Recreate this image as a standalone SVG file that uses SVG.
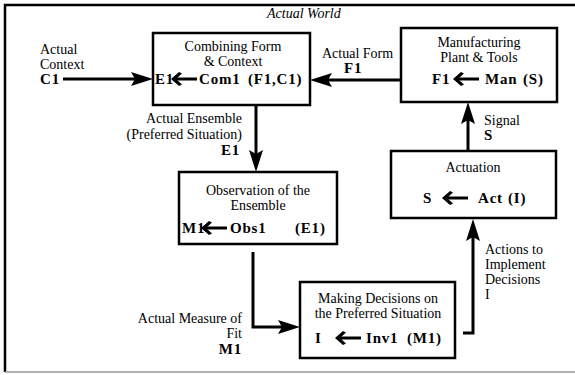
<svg xmlns="http://www.w3.org/2000/svg" xmlns:xlink="http://www.w3.org/1999/xlink" width="575" height="375" viewBox="0 0 575 375">
<style>
.bg{fill:#fff}
.box{fill:#fff;stroke:#000;stroke-width:2.5}
.t{font-family:"Liberation Serif","DejaVu Serif","Times New Roman",serif;font-size:14px;fill:#000}
.b{font-family:"Liberation Serif","DejaVu Serif","Times New Roman",serif;font-size:15px;font-weight:bold;letter-spacing:0.8px;fill:#000}
.i{font-style:italic}
.m{text-anchor:middle}
.e{text-anchor:end}
.c{fill:none;stroke:#000;stroke-width:3}
</style>
<defs>
<marker id="ah" markerUnits="userSpaceOnUse" viewBox="0 0 22 14" refX="12" refY="7" markerWidth="22" markerHeight="14" orient="auto">
<path d="M0,0 L22,7 L0,14 L4,7 z" fill="#000"/>
</marker>
<g id="la">
<path d="M5,0 H26" stroke="#000" stroke-width="3" fill="none"/>
<path d="M0,0 L8,-7 L11,-5.5 L5,0 L11,5.5 L8,7 z" fill="#000"/>
</g>
</defs>
<rect class="bg" x="0" y="0" width="575" height="375"/>
<g id="frame">
<path d="M5,372 V5 H575" fill="none" stroke="#000" stroke-width="2.5"/>
<line x1="5" y1="372" x2="575" y2="372" stroke="#999" stroke-width="1.5"/>
<text class="t i" x="267" y="18">Actual World</text>
</g>
<g id="connectors">
<line class="c" x1="63" y1="79" x2="143" y2="79" marker-end="url(#ah)"/>
<line class="c" x1="401" y1="80" x2="320" y2="80" marker-end="url(#ah)"/>
<line class="c" x1="468" y1="151" x2="468" y2="112" marker-end="url(#ah)"/>
<path class="c" d="M463,333 H473 V229" marker-end="url(#ah)"/>
<line class="c" x1="256" y1="105" x2="256" y2="162" marker-end="url(#ah)"/>
<path class="c" d="M253,252 V327 H290" marker-end="url(#ah)"/>
</g>
<g id="labels">
<text class="t" x="40" y="54">Actual</text>
<text class="t" x="40" y="69">Context</text>
<text class="b" x="40" y="84">C1</text>
<text class="t" x="322" y="58">Actual Form</text>
<text class="b" x="344" y="73">F1</text>
<text class="t" x="484" y="125">Signal</text>
<text class="b" x="484" y="140">S</text>
<text class="t e" x="242" y="123">Actual Ensemble</text>
<text class="t e" x="242" y="139">(Preferred Situation)</text>
<text class="b e" x="240" y="155">E1</text>
<text class="t" x="485" y="254">Actions to</text>
<text class="t" x="485" y="269">Implement</text>
<text class="t" x="485" y="284">Decisions</text>
<text class="t" x="485" y="299">I</text>
<text class="t e" x="242" y="323">Actual Measure of</text>
<text class="t e" x="242" y="338">Fit</text>
<text class="b e" x="242" y="354">M1</text>
</g>
<g id="combining">
<rect class="box" x="153" y="33" width="157" height="72"/>
<text class="t m" x="233" y="51">Combining Form</text>
<text class="t m" x="233" y="66">&amp; Context</text>
<text class="b" x="155" y="84">E1</text>
<use xlink:href="#la" x="171" y="79"/>
<text class="b" x="199" y="84">Com1</text>
<text class="b" x="248" y="84">(F1,C1)</text>
</g>
<g id="manufacturing">
<rect class="box" x="401" y="28" width="156" height="74"/>
<text class="t m" x="479" y="47">Manufacturing</text>
<text class="t m" x="479" y="62">Plant &amp; Tools</text>
<text class="b" x="432" y="84">F1</text>
<use xlink:href="#la" x="453" y="79"/>
<text class="b" x="485" y="84">Man</text>
<text class="b" x="523" y="84">(S)</text>
</g>
<g id="actuation">
<rect class="box" x="391" y="151" width="165" height="67"/>
<text class="t m" x="473" y="172">Actuation</text>
<text class="b" x="423" y="203">S</text>
<use xlink:href="#la" x="442" y="198"/>
<text class="b" x="478" y="203">Act</text>
<text class="b" x="508" y="203">(I)</text>
</g>
<g id="observation">
<rect class="box" x="179" y="172" width="158" height="72"/>
<text class="t m" x="258" y="195">Observation of the</text>
<text class="t m" x="258" y="210">Ensemble</text>
<text class="b" x="182" y="233">M1</text>
<use xlink:href="#la" x="201" y="228"/>
<text class="b" x="230" y="233">Obs1</text>
<text class="b" x="295" y="233">(E1)</text>
</g>
<g id="making">
<rect class="box" x="300" y="282" width="155" height="76"/>
<text class="t m" x="378" y="303">Making Decisions on</text>
<text class="t m" x="378" y="318">the Preferred Situation</text>
<text class="b" x="315" y="343">I</text>
<use xlink:href="#la" x="335" y="338"/>
<text class="b" x="366" y="343">Inv1</text>
<text class="b" x="407" y="343">(M1)</text>
</g>
</svg>
